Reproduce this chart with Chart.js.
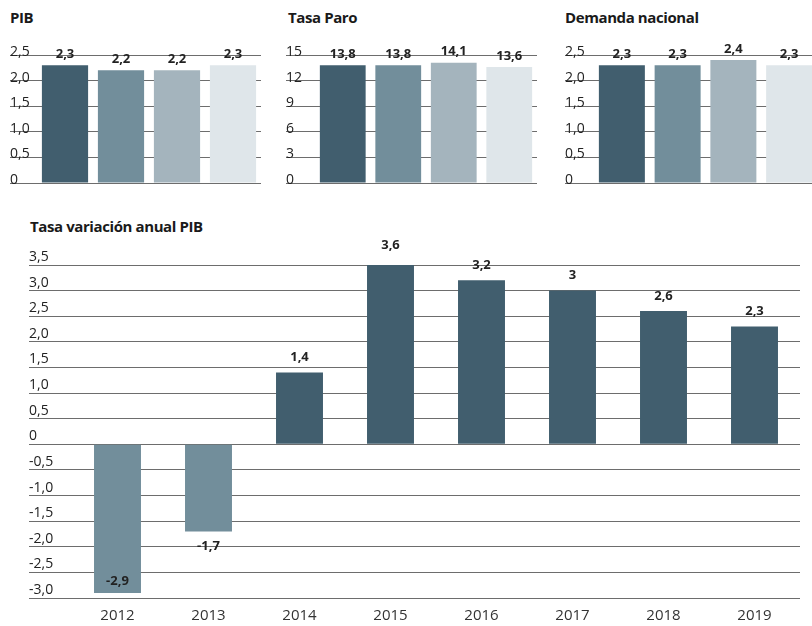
<!DOCTYPE html>
<html>
<head>
<meta charset="utf-8">
<script src="https://cdn.jsdelivr.net/npm/chart.js@4.4.0/dist/chart.umd.min.js"></script>
<style>
  html, body { margin: 0; padding: 0; background: #fff; }
  body { width: 812px; height: 626px; position: relative; overflow: hidden; font-family: "Open Sans", sans-serif; }
  .titulo { position: absolute; font-weight: 700; font-size: 15px; line-height: 1; letter-spacing: -0.4px; color: #1a1a1a; white-space: nowrap; }
  canvas { position: absolute; }
</style>
</head>
<body>
<div class="titulo" style="left:10px;top:10px">PIB</div>
<div class="titulo" style="left:288px;top:10px">Tasa Paro</div>
<div class="titulo" style="left:565px;top:10px">Demanda nacional</div>
<div class="titulo" style="left:30px;top:219px">Tasa variación anual PIB</div>

<canvas id="graficoPib" width="270" height="195" style="left:0;top:0"></canvas>
<canvas id="graficoParo" width="280" height="195" style="left:270px;top:0"></canvas>
<canvas id="graficoDemanda" width="270" height="195" style="left:550px;top:0"></canvas>
<canvas id="graficoVariacion" width="812" height="386" style="left:0;top:240px"></canvas>

<script>
// Datos de los gráficos pequeños (cuatro barras sin etiqueta)
const previsiones = ['1', '2', '3', '4'];
const pib = [2.3, 2.2, 2.2, 2.3];
const tasaParo = [13.8, 13.8, 14.1, 13.6];
const demandaNacional = [2.3, 2.3, 2.4, 2.3];

// Datos del gráfico grande
const anios = ['2012', '2013', '2014', '2015', '2016', '2017', '2018', '2019'];
const variacionPib = [-2.9, -1.7, 1.4, 3.6, 3.2, 3, 2.6, 2.3];

// Marcas de los ejes
const ticksPib = [0, 0.5, 1, 1.5, 2, 2.5];
const ticksParo = [0, 3, 6, 9, 12, 15];
const ticksDemanda = [0, 0.5, 1, 1.5, 2, 2.5];
const ticksVariacion = [-3, -2.5, -2, -1.5, -1, -0.5, 0, 0.5, 1, 1.5, 2, 2.5, 3, 3.5];

// Colores
const coloresSerie = ['#415e6e', '#728e9b', '#a4b4bd', '#dfe6ea'];
const colorPositivo = '#415e6e';
const colorNegativo = '#728e9b';
const colorRejilla = '#6d6d6d';

const formato = v => String(v).replace('.', ',');

// Plugin para escribir el valor de cada barra
const etiquetasValor = {
    id: 'etiquetasValor',
    afterDatasetsDraw(chart, args, opts) {
        const ctx = chart.ctx;
        const meta = chart.getDatasetMeta(0);
        const valores = chart.data.datasets[0].data;
        ctx.save();
        ctx.font = 'bold 13px "Open Sans"';
        ctx.fillStyle = '#222';
        ctx.textAlign = 'center';
        ctx.textBaseline = 'middle';
        meta.data.forEach((barra, i) => {
            const v = valores[i];
            let y;
            if (v >= 0) {
                y = barra.y - opts.separacion;
            } else if (barra.y + opts.separacion + 6 > chart.chartArea.bottom) {
                y = barra.y - 12; // no cabe debajo: dentro de la barra
            } else {
                y = barra.y + opts.separacion;
            }
            ctx.fillText(formato(v), barra.x, y);
        });
        ctx.restore();
    }
};

// Eje Y con las etiquetas encima de cada línea
function ejeY(min, max, marcas, decimales, ancho, desplazamiento) {
    return {
        min: min,
        max: max,
        afterBuildTicks: s => { s.ticks = marcas.map(v => ({ value: v })); },
        afterFit: s => { s.width = ancho; },
        border: { display: false },
        grid: { color: colorRejilla, lineWidth: 1, drawTicks: true, tickLength: ancho },
        ticks: {
            autoSkip: false,
            crossAlign: 'far',
            labelOffset: desplazamiento,
            padding: 0,
            color: '#222',
            font: { family: 'Open Sans', size: 14 },
            callback: v => v === 0 ? '0' : v.toFixed(decimales).replace('.', ',')
        }
    };
}

function graficoPequeno(id, valores, marcas, max, decimales, padding, ancho) {
    new Chart(document.getElementById(id), {
        type: 'bar',
        data: {
            labels: previsiones,
            datasets: [{
                data: valores,
                backgroundColor: coloresSerie,
                categoryPercentage: 1,
                barPercentage: 0.825
            }]
        },
        options: {
            responsive: false,
            animation: false,
            layout: { padding: padding },
            scales: {
                x: { display: false },
                y: ejeY(0, max, marcas, decimales, ancho, -3)
            },
            plugins: {
                legend: { display: false },
                tooltip: { enabled: false },
                etiquetasValor: { separacion: 11 }
            }
        },
        plugins: [etiquetasValor]
    });
}

window.onload = function() {
    graficoPequeno('graficoPib', pib, ticksPib, 2.5, 1, { left: 10, right: 9, top: 55, bottom: 12 }, 27);
    graficoPequeno('graficoParo', tasaParo, ticksParo, 15, 0, { left: 16, right: 13, top: 55, bottom: 12 }, 29);
    graficoPequeno('graficoDemanda', demandaNacional, ticksDemanda, 2.5, 1, { left: 15, right: 3, top: 55, bottom: 12 }, 29);

    new Chart(document.getElementById('graficoVariacion'), {
        type: 'bar',
        data: {
            labels: anios,
            datasets: [{
                data: variacionPib,
                backgroundColor: variacionPib.map(v => v < 0 ? colorNegativo : colorPositivo),
                categoryPercentage: 1,
                barPercentage: 0.516
            }]
        },
        options: {
            responsive: false,
            animation: false,
            layout: { padding: { left: 29, right: 12, top: 25, bottom: 0 } },
            scales: {
                x: {
                    afterFit: s => { s.height = 28; },
                    border: { display: false },
                    grid: { display: false, drawTicks: false },
                    ticks: { padding: 9, color: '#333', font: { family: 'Open Sans', size: 15 } }
                },
                y: ejeY(-3, 3.5, ticksVariacion, 1, 43, -8)
            },
            plugins: {
                legend: { display: false },
                tooltip: { enabled: false },
                etiquetasValor: { separacion: 15 }
            }
        },
        plugins: [etiquetasValor]
    });
};
</script>
</body>
</html>
